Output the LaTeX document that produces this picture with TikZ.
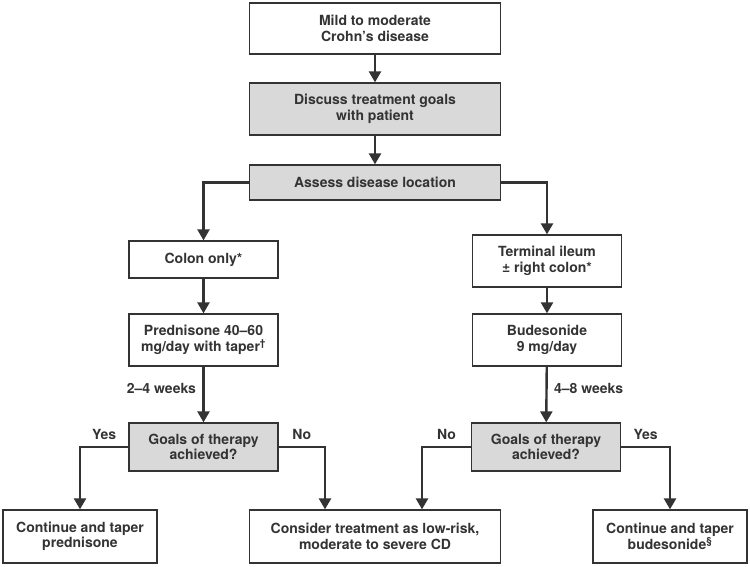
\documentclass[tikz,border=0pt]{standalone}
\usepackage{fontspec}
\setmainfont{TeX Gyre Heros}
\usetikzlibrary{arrows.meta}
\definecolor{inkgray}{HTML}{333333}
\definecolor{boxgray}{HTML}{D9D9D9}
\def\WideBox{251}
\def\NarrowBox{149}
\def\EndBox{154}

\begin{document}
\begin{tikzpicture}[x=1pt,y=-1pt,
    font=\fontsize{14}{15.5}\selectfont\bfseries,
    box/.style={draw=inkgray, line width=1.3pt, fill=white, text=inkgray,
      align=center, inner sep=2pt},
    greybox/.style={box, fill=boxgray},
    flowline/.style={draw=inkgray, line width=2.4pt,
      -{Triangle[length=11pt,width=12pt]}},
    branch/.style={text=inkgray}]
  \useasboundingbox (0,0) rectangle (750,566);
  % top of the chart
  \node[box, minimum width=\WideBox, minimum height=51] (mild) at (375,28.5)
    {Mild to moderate\\Crohn’s disease};
  \node[greybox, minimum width=\WideBox, minimum height=52] (discuss) at (375,109)
    {Discuss treatment goals\\with patient};
  \node[greybox, minimum width=\WideBox, minimum height=35] (assess) at (375,182.5)
    {Assess disease location};
  % colon branch
  \node[box, minimum width=\NarrowBox, minimum height=37] (colon) at (203.5,259.5)
    {Colon only*};
  \node[box, minimum width=\NarrowBox, minimum height=52] (pred) at (203.5,340)
    {Prednisone 40–60\\mg/day with taper\textsuperscript{\dag}};
  \node[greybox, minimum width=\NarrowBox, minimum height=48] (goalsL) at (203.5,447)
    {Goals of therapy\\achieved?};
  % ileum branch
  \node[box, minimum width=\NarrowBox, minimum height=52] (ileum) at (547,261)
    {Terminal ileum\\± right colon*};
  \node[box, minimum width=\NarrowBox, minimum height=52] (bud) at (547,340)
    {Budesonide\\9 mg/day};
  \node[greybox, minimum width=\NarrowBox, minimum height=48] (goalsR) at (546,447)
    {Goals of therapy\\achieved?};
  % outcomes
  \node[box, minimum width=\EndBox, minimum height=53] (taperP) at (80,536.5)
    {Continue and taper\\prednisone};
  \node[box, minimum width=\WideBox, minimum height=53] (consider) at (375,536.5)
    {Consider treatment as low-risk,\\moderate to severe CD};
  \node[box, minimum width=\EndBox, minimum height=53] (taperB) at (670,536.5)
    {Continue and taper\\budesonide\textsuperscript{\S}};
  \coordinate (noL) at ([xshift=-50pt]consider.north);
  \coordinate (noR) at ([xshift=47pt]consider.north);
  % connectors
  \draw[flowline] (mild) -- (discuss);
  \draw[flowline] (discuss) -- (assess);
  \draw[flowline] (assess.west) -| (colon.north);
  \draw[flowline] (assess.east) -| (ileum.north);
  \draw[flowline] (colon) -- (pred);
  \draw[flowline] (ileum) -- (bud);
  \draw[flowline] (pred) -- node[branch, left=3pt, pos=0.4] {2–4 weeks} (goalsL);
  \draw[flowline] (bud) -- node[branch, right=3pt, pos=0.4] {4–8 weeks} (goalsR);
  \draw[flowline] (goalsL.west) -| node[branch, pos=0.25, above=3pt] {Yes} (taperP.north);
  \draw[flowline] (goalsL.east) -| node[branch, pos=0.25, above=3pt] {No} (noL);
  \draw[flowline] (goalsR.west) -| node[branch, pos=0.25, above=3pt] {No} (noR);
  \draw[flowline] (goalsR.east) -| node[branch, pos=0.25, above=3pt] {Yes} (taperB.north);
\end{tikzpicture}
\end{document}
